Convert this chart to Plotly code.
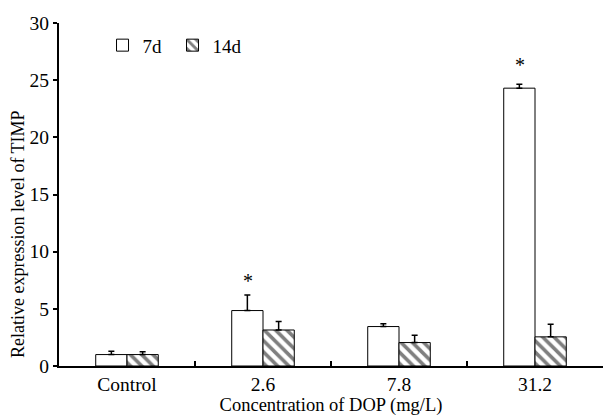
import plotly.graph_objects as go

categories = ["Control", "2.6", "7.8", "31.2"]
vals_7d = [1.0, 4.85, 3.45, 24.3]
err_7d = [0.3, 1.35, 0.25, 0.35]
vals_14d = [1.0, 3.15, 2.05, 2.55]
err_14d = [0.25, 0.75, 0.65, 1.1]
star_cats = ["2.6", "31.2"]
star_y = [7.4, 26.3]

FONT = "Liberation Serif, Times New Roman, serif"

fig = go.Figure()
fig.add_trace(go.Bar(
    name="7d", x=categories, y=vals_7d,
    marker=dict(color="white", line=dict(color="black", width=1)),
    error_y=dict(type="data", array=err_7d, arrayminus=[0]*4, symmetric=False,
                 color="black", thickness=1.5, width=3),
))
fig.add_trace(go.Bar(
    name="14d", x=categories, y=vals_14d,
    marker=dict(color="white", line=dict(color="black", width=1),
                pattern=dict(shape="\\", fgcolor="black", bgcolor="white",
                             size=8, solidity=0.45, fillmode="overlay")),
    error_y=dict(type="data", array=err_14d, arrayminus=[0]*4, symmetric=False,
                 color="black", thickness=1.5, width=3),
))

for c, y in zip(star_cats, star_y):
    fig.add_annotation(x=categories.index(c), y=y, xref="x", yref="y", text="*", showarrow=False,
                       xshift=-15.5, font=dict(family=FONT, size=20, color="black"))

L, R, T, B = 59, 2, 23, 51
W, H = 605, 417
pw, ph = W - L - R, H - T - B
fig.add_annotation(x=(18 - L) / pw, y=(H - B - 209) / ph, xref="paper", yref="paper",
                   xanchor="center", yanchor="middle", yshift=-25,
                   text="Relative expression level of TIMP",
                   textangle=-90, showarrow=False, font=dict(family=FONT, size=18, color="black"))

fig.update_layout(
    width=W, height=H,
    margin=dict(l=L, r=R, t=T, b=B),
    paper_bgcolor="white", plot_bgcolor="white",
    font=dict(family=FONT, size=19.5, color="black"),
    barmode="group", bargap=0.54, bargroupgap=0,
    showlegend=True,
    legend=dict(orientation="h", x=0.08, y=0.935, xanchor="left", yanchor="middle",
                font=dict(family=FONT, size=19, color="black"),
                bgcolor="rgba(0,0,0,0)", itemwidth=30, tracegroupgap=0,
                entrywidth=25),
    xaxis=dict(type="category", range=[-0.5, 3.5], showline=True, linecolor="black", linewidth=1.5,
               ticks="inside", tickson="boundaries", ticklen=5, tickcolor="black", tickwidth=1.5,
               showgrid=False, zeroline=False, tickangle=0,
               title=dict(text="Concentration of DOP (mg/L)", standoff=2,
                          font=dict(family=FONT, size=18.5))),
    yaxis=dict(range=[0, 30], dtick=5, showline=True, linecolor="black", linewidth=2,
               ticks="outside", ticklen=4, tickcolor="black", tickwidth=1.5,
               showgrid=False, zeroline=False),
)

fig.write_html("out.html")
